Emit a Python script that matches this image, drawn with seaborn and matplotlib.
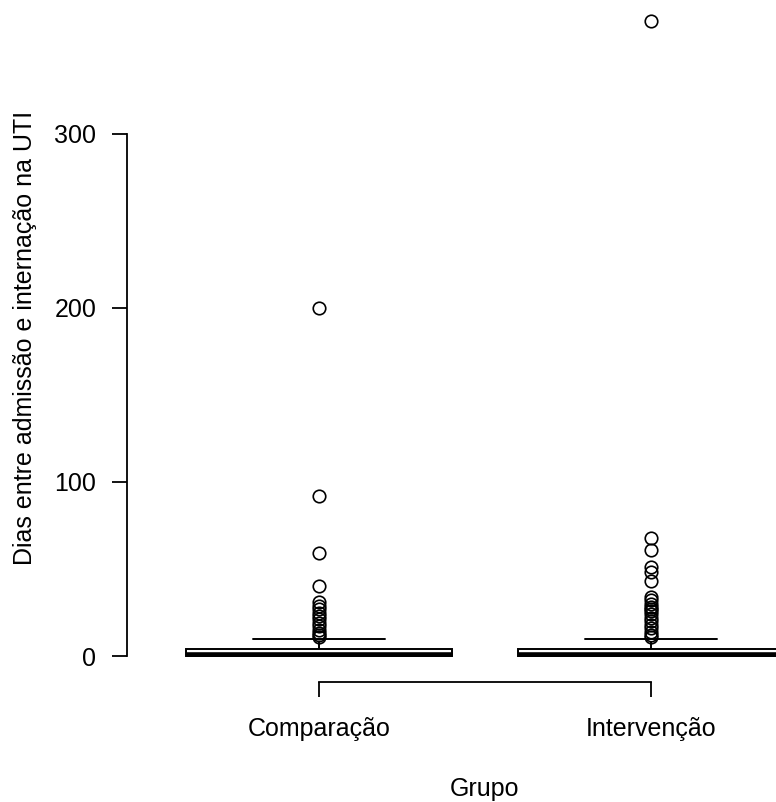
import numpy as np
import pandas as pd
import matplotlib
matplotlib.use("Agg")
import matplotlib.pyplot as plt
import seaborn as sns

# ---- data ----
groups = ["Comparação", "Intervenção"]
core_values = [0, 1, 2, 3, 4, 5, 6, 7, 8, 9, 10]
comp_counts = [35, 31, 14, 10, 10, 4, 3, 2, 2, 1, 2]
interv_counts = [36, 34, 14, 10, 10, 4, 3, 2, 2, 1, 2]
comp_outliers = [11, 12, 13, 15, 17, 19, 21, 23, 25, 27, 29, 31, 40, 59, 92, 200]
interv_outliers = [11, 12, 14, 16, 18, 20, 22, 24, 26, 27, 28, 30, 32, 34,
                   43, 48, 51, 61, 68, 365]
y_ticks = [0, 100, 200, 300]

comp_vals = list(np.repeat(core_values, comp_counts)) + comp_outliers
interv_vals = list(np.repeat(core_values, interv_counts)) + interv_outliers
df = pd.DataFrame({
    "Grupo": [groups[0]] * len(comp_vals) + [groups[1]] * len(interv_vals),
    "Dias": comp_vals + interv_vals,
})

sns.set_style("white")
plt.rcParams["font.family"] = ["Liberation Sans", "DejaVu Sans"]

fig = plt.figure(figsize=(7.76, 8.02), dpi=100)
ax = fig.add_axes([127 / 776, (802 - 682) / 802, (776 - 127) / 776, 682 / 802])

sns.boxplot(
    data=df, x="Grupo", y="Dias", order=groups, width=0.8,
    color="white", linecolor="black", linewidth=1.4, saturation=1,
    fliersize=9,
    flierprops=dict(marker="o", markerfacecolor="none",
                    markeredgecolor="black", markeredgewidth=1.2),
    medianprops=dict(linewidth=3.3, color="black"),
    whiskerprops=dict(linestyle="--", color="black"),
    capprops=dict(color="black"),
    ax=ax,
)

ax.set_xlim(-0.5783, 1.3765)
ax.set_ylim(-14.94, 377.0)
ax.set_yticks(y_ticks)
ax.set_yticklabels([str(t) for t in y_ticks])

for s in ["top", "right"]:
    ax.spines[s].set_visible(False)
ax.spines["left"].set_bounds(0, 300)
ax.spines["bottom"].set_bounds(0, 1)
for s in ["left", "bottom"]:
    ax.spines[s].set_linewidth(1.3)
    ax.spines[s].set_color("black")

ax.tick_params(axis="both", length=10.5, width=1.3,
               labelsize=18, colors="black", direction="out")
ax.tick_params(axis="y", left=True, pad=11.5)
ax.tick_params(axis="x", bottom=True, pad=15)

ax.set_xlabel("Grupo", fontsize=18, color="black")
ax.set_ylabel("Dias entre admissão e internação na UTI", fontsize=18, color="black")
ax.xaxis.set_label_coords(0.5516, -0.140)
ax.yaxis.set_label_coords(-0.1387, 0.504)

fig.savefig("out.png", dpi=100)
